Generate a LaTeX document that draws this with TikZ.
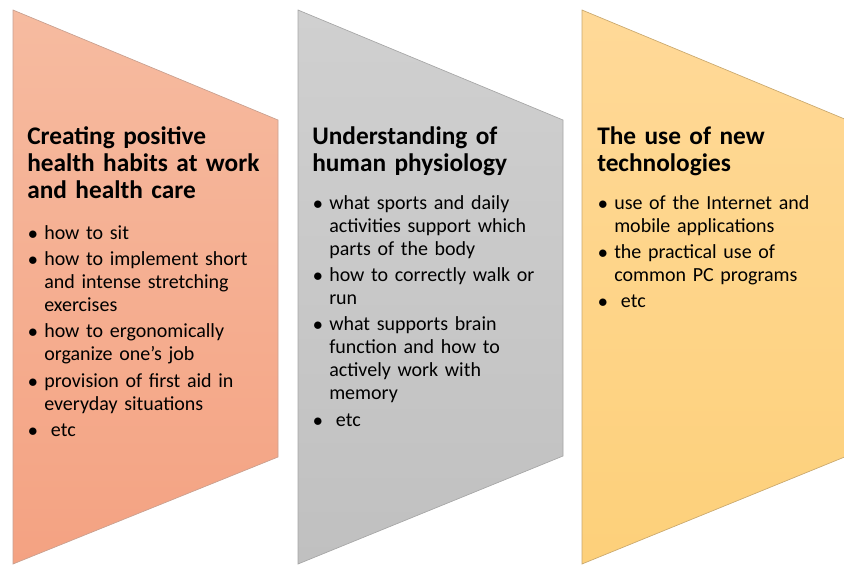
\documentclass[tikz,border=0pt]{standalone}
\usepackage{fontspec}
\setmainfont{Carlito}
\usepackage{enumitem}
\usetikzlibrary{positioning}

% panel colours
\definecolor{salmontop}{HTML}{F6BBA0}
\definecolor{salmonbot}{HTML}{F4A282}
\definecolor{salmonedge}{HTML}{C8A090}
\definecolor{greytop}{HTML}{D0D0D0}
\definecolor{greybot}{HTML}{C0C0C0}
\definecolor{greyedge}{HTML}{A6A6A6}
\definecolor{sandtop}{HTML}{FFD998}
\definecolor{sandbot}{HTML}{FDD07A}
\definecolor{sandedge}{HTML}{C9A86E}

\setlist[itemize]{label=$\bullet$, leftmargin=12.75pt, labelsep=5pt,
  itemsep=2.5pt, parsep=0pt, topsep=0pt, partopsep=0pt}

\tikzset{
  heading/.style={anchor=base west, inner sep=0pt, text width=190pt, align=left,
    font=\bfseries\fontsize{19}{20.25}\selectfont},
  points/.style={anchor=base west, inner sep=0pt, text width=190pt, align=left,
    font=\fontsize{15}{17.25}\selectfont},
}

\begin{document}
\begin{tikzpicture}[x=0.75pt, y=-0.75pt]
    \useasboundingbox (0,0) rectangle (844,565);
    \clip (0,0) rectangle (844,565);

    % draw the three panels
    \shade[top color=salmontop, bottom color=salmonbot, draw=salmonedge, line width=0.5pt]
      (13,10) -- (278,120) -- (278,457) -- (13,564) -- cycle;
    \shade[top color=greytop, bottom color=greybot, draw=greyedge, line width=0.5pt]
      (298,10) -- (563,120) -- (563,456) -- (298,564) -- cycle;
    \shade[top color=sandtop, bottom color=sandbot, draw=sandedge, line width=0.5pt]
      (582,10) -- (847,120) -- (847,456) -- (582,564) -- cycle;

    % headings
    \node[heading] (habits) at (27,144) {Creating positive\\health habits at work\\and health care};
    \node[heading] (physio) at (312,144) {Understanding of\\human physiology};
    \node[heading] (tech) at (597,144) {The use of new\\technologies};

    % bullet lists (base sits on the top line of the list)
    \node[points] (habitslist) at (27,216) {%
      \begin{itemize}
        \item how to sit
        \item how to implement short\\and intense stretching\\exercises
        \item how to ergonomically\\organize one’s job
        \item provision of first aid in\\everyday situations
        \item \ etc
      \end{itemize}};
    \node[points] (physiolist) at (312,186) {%
      \begin{itemize}
        \item what sports and daily\\activities support which\\parts of the body
        \item how to correctly walk or\\run
        \item what supports brain\\function and how to\\actively work with\\memory
        \item \ etc
      \end{itemize}};
    \node[points] (techlist) at (597,186) {%
      \begin{itemize}
        \item use of the Internet and\\mobile applications
        \item the practical use of\\common PC programs
        \item \ etc
      \end{itemize}};
\end{tikzpicture}
\end{document}
